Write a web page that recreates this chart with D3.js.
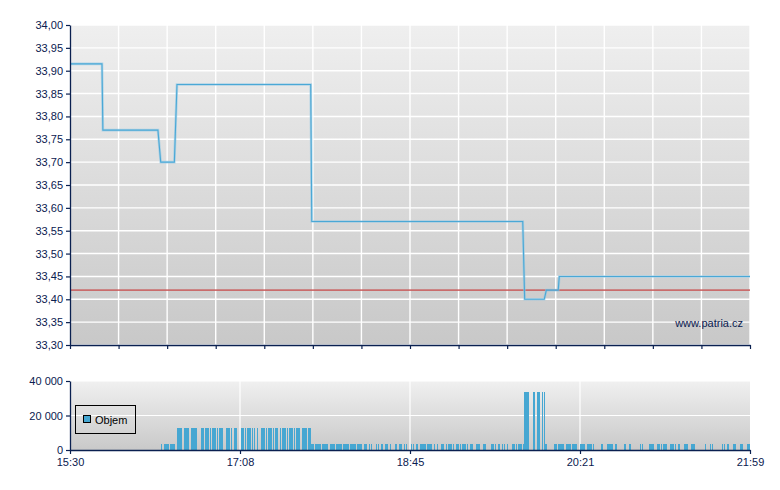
<!DOCTYPE html>
<html><head><meta charset="utf-8">
<script src="https://cdn.jsdelivr.net/npm/d3@7"></script>
<style>
html,body{margin:0;padding:0;background:#fff;}
svg{display:block;font-family:"Liberation Sans",Arial,sans-serif;}
</style></head>
<body>
<svg id="c" width="780" height="490"></svg>
<script>
// ---- data ----
const sessionMinutes = 389; // 15:30 -> 21:59
const timeTickLabels = ["15:30", "17:08", "18:45", "20:21", "21:59"];
const priceTicks = [33.30,33.35,33.40,33.45,33.50,33.55,33.60,33.65,33.70,33.75,33.80,33.85,33.90,33.95,34.00];
const volumeTicks = [0, 20000, 40000];
const previousClose = 33.42;
// [minutes since 15:30, price]
const pricePoints = [
  [0,33.915],[18.3,33.915],[18.8,33.77],[50.3,33.77],[51.9,33.70],[59.7,33.70],
  [61.2,33.87],[137.7,33.87],[138.3,33.57],[259,33.57],[260.1,33.40],[271.3,33.40],
  [272.5,33.42],[279.3,33.42],[279.9,33.45],[389,33.45]
];
// volume bars: minutes since 15:30 grouped by read-off volume level
const volLow = [52,54,55,56,57,58,59,
  138,139,140,141,142,143,144,145,146,147,149,150,151,152,153,154,155,156,157,158,159,160,161,162,163,164,165,166,168,169,171,172,175,176,178,180,181,183,186,188,189,191,192,195,196,198,200,201,202,203,204,205,206,208,210,212,213,215,216,217,218,219,221,222,223,224,225,226,227,229,230,232,233,234,236,237,241,242,243,245,247,248,250,253,254,255,256,257,258,259,272,277,278,279,280,281,282,284,285,286,287,288,289,292,293,294,296,297,298,299,304,307,308,309,310,312,317,320,326,327,331,332,333,336,337,338,339,340,341,343,344,345,346,348,351,352,353,355,356,357,363,366,367,373,374,376,379,380,383,384,387,388];
const volLowValue = 3500;
const volMid = [61,62,63,65,66,67,69,70,71,72,75,76,77,78,79,80,81,82,83,84,85,86,87,89,90,91,92,94,95,98,99,100,101,102,103,104,105,107,109,110,111,112,113,114,115,116,117,118,120,121,122,123,124,125,126,127,128,129,130,131,133,134,135,136,137];
const volMidValue = 12700;
const volHigh = [260,261,262,265,267,268,270,271];
const volHighValue = 33600;

const volume = []
  .concat(volLow.map(m => ({m, v: volLowValue})))
  .concat(volMid.map(m => ({m, v: volMidValue})))
  .concat(volHigh.map(m => ({m, v: volHighValue})));

// ---- layout ----
const svg = d3.select("#c");
const L = 70, R = 750;
const mainTop = 25, mainBot = 345;
const volTop = 381, volBot = 450;
const axisColor = "#0a2050";
const textColor = "#0a2050";

const x = d3.scaleLinear().domain([0, sessionMinutes]).range([L, R]);
const y = d3.scaleLinear().domain([33.30, 34.00]).range([mainBot, mainTop]);
const yv = d3.scaleLinear().domain([0, 40000]).range([volBot, volTop]);

const defs = svg.append("defs");
const g1 = defs.append("linearGradient").attr("id","gMain").attr("x1",0).attr("y1",0).attr("x2",0).attr("y2",1);
g1.append("stop").attr("offset","0%").attr("stop-color","#efefef");
g1.append("stop").attr("offset","100%").attr("stop-color","#c8c8c8");
const g2 = defs.append("linearGradient").attr("id","gVol").attr("x1",0).attr("y1",0).attr("x2",0).attr("y2",1);
g2.append("stop").attr("offset","0%").attr("stop-color","#f0f0f0");
g2.append("stop").attr("offset","100%").attr("stop-color","#c9c9c9");

// backgrounds
svg.append("rect").attr("x",L).attr("y",mainTop).attr("width",R-L).attr("height",mainBot-mainTop).attr("fill","url(#gMain)");
svg.append("rect").attr("x",L).attr("y",volTop).attr("width",R-L).attr("height",volBot-volTop).attr("fill","url(#gVol)");

// main grid
const minorTicks = d3.range(15).map(i => i*sessionMinutes/14);
const majorTicks = d3.range(5).map(i => i*sessionMinutes/4);
const gm = svg.append("g");
gm.selectAll("line.h").data(priceTicks).join("line")
  .attr("x1",L).attr("x2",R).attr("y1",d=>y(d)).attr("y2",d=>y(d))
  .attr("stroke","#fff").attr("stroke-width",1.4);
gm.selectAll("line.v").data(minorTicks.slice(1)).join("line")
  .attr("x1",d=>x(d)).attr("x2",d=>x(d)).attr("y1",mainTop).attr("y2",mainBot)
  .attr("stroke","#fff").attr("stroke-width",1.4);

// volume grid
const gv = svg.append("g");
gv.selectAll("line.h").data(volumeTicks.slice(1)).join("line")
  .attr("x1",L).attr("x2",R).attr("y1",d=>yv(d)).attr("y2",d=>yv(d))
  .attr("stroke","#fff").attr("stroke-width",1.2);
gv.selectAll("line.v").data(majorTicks.slice(1,4)).join("line")
  .attr("x1",d=>x(d)).attr("x2",d=>x(d)).attr("y1",volTop).attr("y2",volBot)
  .attr("stroke","#fff").attr("stroke-width",1.2);

// previous close line
svg.append("line").attr("x1",L).attr("x2",R).attr("y1",y(previousClose)).attr("y2",y(previousClose))
  .attr("stroke","#c85a5a").attr("stroke-width",1.6).attr("stroke-opacity",0.85);

// price line
const line = d3.line().x(d=>x(d[0])).y(d=>y(d[1]));
svg.append("path").datum(pricePoints).attr("d",line).attr("fill","none")
  .attr("stroke","#8cc6e4").attr("stroke-width",2.6).attr("stroke-opacity",0.6);
svg.append("path").datum(pricePoints).attr("d",line).attr("fill","none")
  .attr("stroke","#4aa8d6").attr("stroke-width",1.1);

// volume bars
const bw = (x(1) - x(0)) * 0.8;
svg.append("g").selectAll("rect").data(volume).join("rect")
  .attr("x",d=>x(d.m)).attr("width",bw)
  .attr("y",d=>yv(d.v)).attr("height",d=>volBot-yv(d.v))
  .attr("fill","#46a7d2").attr("shape-rendering","crispEdges");

// axes
function styleAxis(g){
  g.select(".domain").attr("stroke",axisColor).attr("stroke-width",1.3);
  g.selectAll(".tick line").attr("stroke",axisColor).attr("stroke-width",1.2);
  g.selectAll(".tick text").attr("fill",textColor).attr("font-size","11px")
    .attr("font-family","'Liberation Sans',Arial,sans-serif");
}
const fmtPrice = d => d3.format(".2f")(d).replace(".", ",");
svg.append("g").attr("transform",`translate(${L},0)`)
  .call(d3.axisLeft(y).tickValues(priceTicks).tickFormat(fmtPrice).tickSize(4).tickSizeOuter(0).tickPadding(3))
  .call(styleAxis);
svg.append("g").attr("transform",`translate(0,${mainBot})`)
  .call(d3.axisBottom(x).tickValues(minorTicks).tickFormat("").tickSize(4).tickSizeOuter(0))
  .call(styleAxis);

const fmtVol = d => d3.format(",")(d).replace(/,/g, " ");
svg.append("g").attr("transform",`translate(${L},0)`)
  .call(d3.axisLeft(yv).tickValues(volumeTicks).tickFormat(fmtVol).tickSize(4).tickSizeOuter(0).tickPadding(3))
  .call(styleAxis);
svg.append("g").attr("transform",`translate(0,${volBot})`)
  .call(d3.axisBottom(x).tickValues(majorTicks).tickFormat((d,i)=>timeTickLabels[i]).tickSize(4).tickSizeOuter(0).tickPadding(4))
  .call(styleAxis);

// watermark
svg.append("text").attr("x",743).attr("y",327).attr("text-anchor","end")
  .attr("font-size","11px").attr("fill",textColor).text("www.patria.cz");

// legend
const lg = svg.append("g");
lg.append("rect").attr("x",75.5).attr("y",405.5).attr("width",60).attr("height",28)
  .attr("fill","none").attr("stroke","#000").attr("stroke-width",1);
lg.append("rect").attr("x",83.5).attr("y",415.5).attr("width",7).attr("height",7)
  .attr("fill","#46a7d2").attr("stroke","#000").attr("stroke-width",1);
lg.append("text").attr("x",95).attr("y",424).attr("font-size","11px").attr("fill","#000").text("Objem");
</script>
</body></html>
